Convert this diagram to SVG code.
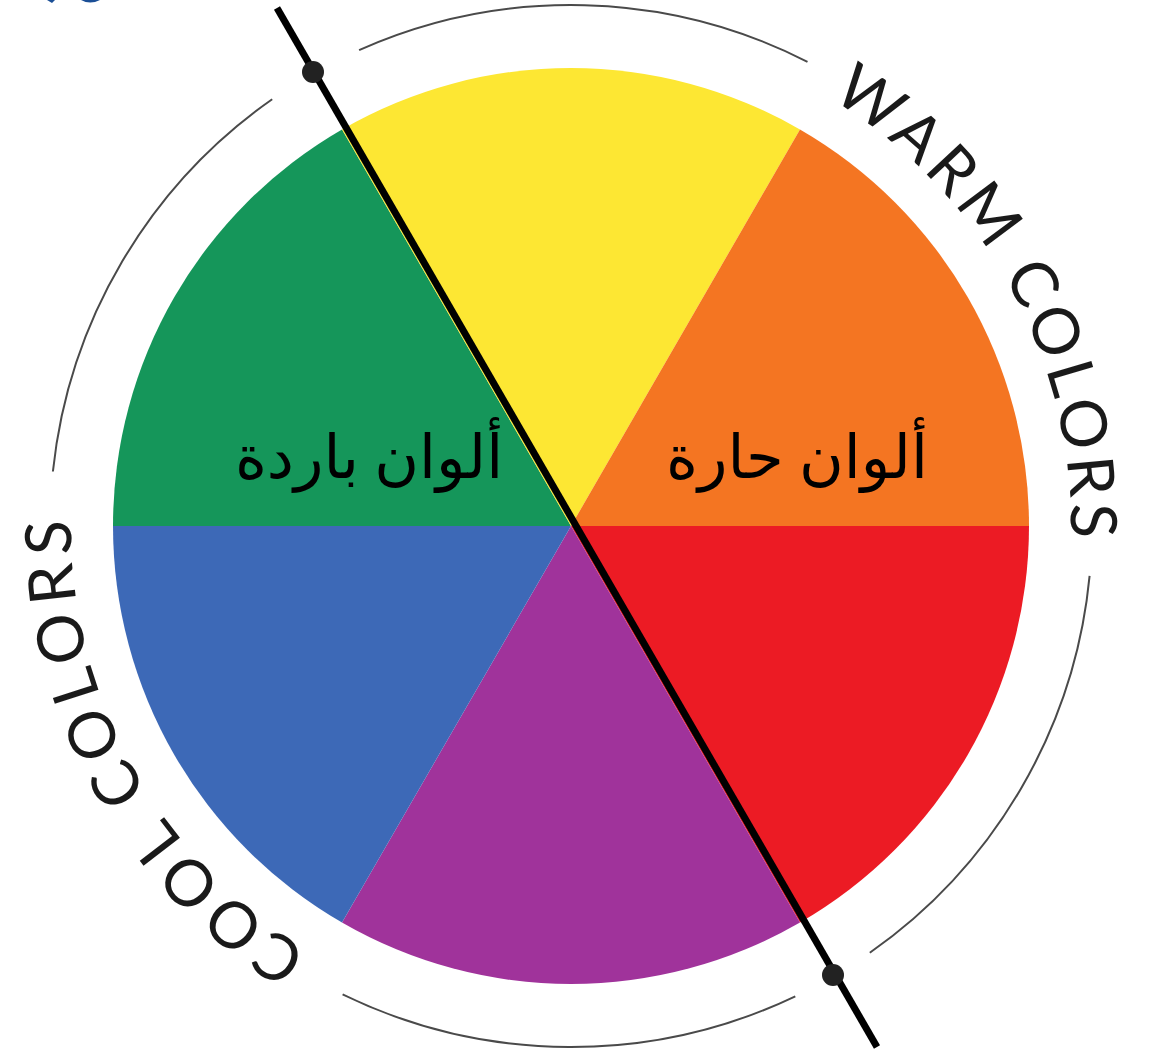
<svg xmlns="http://www.w3.org/2000/svg" xmlns:xlink="http://www.w3.org/1999/xlink" width="1158" height="1053" viewBox="0 0 1158 1053">
<style>
.arc{fill:none;stroke:#4a4a4a;stroke-width:2}
.curved{font-family:Lato,"DejaVu Sans",sans-serif;font-weight:400;font-size:64px;fill:#1a1a1a}
.ar{font-family:"Liberation Serif","DejaVu Sans",serif;font-size:61px;fill:#000}
</style>
<defs>
<path id="warmPath" d="M571,26 A500,500 0 0 1 1004,776"/>
<path id="coolPath" d="M571,1026 A500,500 0 0 1 138,276"/>
</defs>
<rect width="1158" height="1053" fill="#fff"/>
<g id="corner-fragment" fill="#1b4f96">
<path d="M47,0 L55,0 L52,3 Z"/>
<path d="M81,0 Q90,5 100,0 Z"/>
</g>
<g id="wheel">
<path id="red" d="M571,526 L1029,526 A458,458 0 0 1 800,922.6 Z" fill="#ec1b24"/>
<path id="purple" d="M571,526 L800,922.6 A458,458 0 0 1 342,922.6 Z" fill="#a0339b"/>
<path id="blue" d="M571,526 L342,922.6 A458,458 0 0 1 113,526 Z" fill="#3d69b7"/>
<path id="green" d="M571,526 L113,526 A458,458 0 0 1 342,129.4 Z" fill="#15965a"/>
<path id="yellow" d="M571,526 L342,129.4 A458,458 0 0 1 800,129.4 Z" fill="#fde733"/>
<path id="orange" d="M571,526 L800,129.4 A458,458 0 0 1 1029,526 Z" fill="#f47522"/>
</g>
<g id="outer-arcs">
<path class="arc" d="M359.1,50.1 A521,521 0 0 1 807.5,61.8"/>
<path class="arc" d="M52.9,471.5 A521,521 0 0 1 272.2,99.2"/>
<path class="arc" d="M1089.6,575.9 A521,521 0 0 1 869.8,952.8"/>
<path class="arc" d="M795.3,996.3 A521,521 0 0 1 342.6,994.3"/>
</g>
<g id="warm-label">
<text class="curved"><textPath xlink:href="#warmPath" href="#warmPath" startOffset="535" text-anchor="middle" textLength="525" lengthAdjust="spacing">WARM COLORS</textPath></text>
</g>
<g id="cool-label">
<text class="curved"><textPath xlink:href="#coolPath" href="#coolPath" startOffset="534" text-anchor="middle" textLength="515" lengthAdjust="spacing">COOL COLORS</textPath></text>
</g>
<g id="connectors">
<line id="divider" x1="277" y1="8" x2="877" y2="1047" stroke="#000" stroke-width="7"/>
<circle cx="313" cy="72" r="11" fill="#222"/>
<circle cx="833" cy="975" r="11" fill="#222"/>
</g>
<g id="cool-text">
<text class="ar" x="369" y="478" text-anchor="middle" direction="rtl">ألوان باردة</text>
</g>
<g id="warm-text">
<text class="ar" x="797" y="478" text-anchor="middle" direction="rtl">ألوان حارة</text>
</g>
</svg>
